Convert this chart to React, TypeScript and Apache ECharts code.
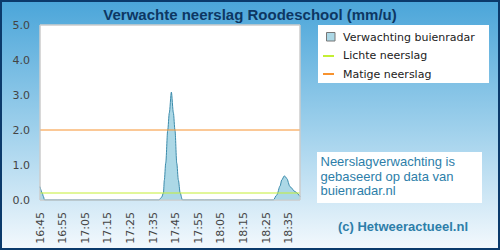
import React, { useEffect, useRef } from "react";
import * as echarts from "echarts";

// Minutes after 16:45 and forecast rain (mm/u)
const rainMinutes = [0, 1, 1.5, 2, 52.6, 53.8, 54.6, 55.0, 55.6, 56.5, 57.2, 58.1, 59.0, 59.7, 60.5, 61.2, 62.0, 63.0, 103.2, 104.7, 106.2, 106.9, 108.1, 109.1, 110.6, 112.8, 115];
const rainValues = [0.38, 0.2, 0.1, 0, 0, 0.08, 0.2, 0.57, 1.05, 2.0, 2.49, 3.08, 2.49, 2.0, 1.05, 0.57, 0.2, 0, 0, 0.14, 0.4, 0.57, 0.69, 0.62, 0.38, 0.24, 0.1];
const timeLabels = ["16:45", "16:55", "17:05", "17:15", "17:25", "17:35", "17:45", "17:55", "18:05", "18:15", "18:25", "18:35"];
const yTicks = [0, 1, 2, 3, 4, 5];
const lightThreshold = 0.2;
const moderateThreshold = 2.0;
const xMax = 115;
const legendNames = ["Verwachting buienradar", "Lichte neerslag", "Matige neerslag"];
const titleText = "Verwachte neerslag Roodeschool (mm/u)";
const infoText = "Neerslagverwachting is\ngebaseerd op data van\nbuienradar.nl";
const creditText = "(c) Hetweeractueel.nl";

export default function App() {
  const ref = useRef<HTMLDivElement>(null);
  useEffect(() => {
    if (!ref.current) return;
    const chart = echarts.init(ref.current, null, { renderer: "svg" });
    const rainData = rainMinutes.map((m, i) => [m, rainValues[i]]);
    const lime = "#c4ef34";
    const orange = "#f7922e";
    chart.setOption({
      animation: false,
      backgroundColor: new echarts.graphic.LinearGradient(0, 0, 0, 1, [
        { offset: 0, color: "#4aa5d9" },
        { offset: 0.5, color: "#9ccfeb" },
        { offset: 1, color: "#f4f9fd" },
      ]),
      title: {
        text: titleText,
        left: "center",
        top: 2,
        textStyle: { fontFamily: "Liberation Sans", fontWeight: "bold", fontSize: 15, color: "#0d3763" },
      },
      grid: {
        left: 40, top: 25, width: 260, height: 175,
        show: true, backgroundColor: "#ffffff", borderColor: "#cccccc", borderWidth: 1,
      },
      xAxis: {
        type: "value", min: 0, max: xMax, interval: 10,
        axisLine: { show: false }, axisTick: { show: false }, splitLine: { show: false },
        axisLabel: {
          rotate: 90, margin: 12, showMaxLabel: false,
          fontFamily: "DejaVu Sans", fontSize: 11, color: "#444444",
          formatter: (v: number) => timeLabels[Math.round(v / 10)] ?? "",
        },
      },
      yAxis: {
        type: "value", min: yTicks[0], max: yTicks[yTicks.length - 1], interval: 1,
        axisLine: { show: false }, axisTick: { show: false }, splitLine: { show: false },
        axisLabel: {
          margin: 10, fontFamily: "DejaVu Sans", fontSize: 11, color: "#444444",
          formatter: (v: number) => v.toFixed(1),
        },
      },
      series: [
        {
          name: legendNames[0], type: "line", data: rainData,
          smooth: 0.3, smoothMonotone: "x", showSymbol: false,
          lineStyle: { color: "#3b8bab", width: 1 },
          areaStyle: { color: "#acd8e6", opacity: 1 },
          z: 2,
        },
        {
          name: legendNames[1], type: "line", showSymbol: false,
          data: [[0, lightThreshold], [xMax, lightThreshold]],
          lineStyle: { color: lime, width: 1 }, z: 3,
        },
        {
          name: legendNames[2], type: "line", showSymbol: false,
          data: [[0, moderateThreshold], [xMax, moderateThreshold]],
          lineStyle: { color: orange, width: 1 }, z: 3,
        },
      ],
      graphic: [
        { type: "rect", z: 100, silent: true, shape: { x: 40, y: 25, width: 260, height: 175 }, style: { fill: "none", stroke: "#cccccc", lineWidth: 1 } },
        { type: "rect", z: 100, silent: true, shape: { x: 1, y: 1, width: 498, height: 248 }, style: { fill: "none", stroke: "#0b3a6b", lineWidth: 2 } },
        { type: "rect", shape: { x: 318, y: 25, width: 171, height: 58 }, style: { fill: "#ffffff" } },
        { type: "rect", shape: { x: 326.5, y: 32.5, width: 8.5, height: 8.5 }, style: { fill: "#acd8e6", stroke: "#777777", lineWidth: 1 } },
        { type: "text", x: 343, y: 37, style: { text: legendNames[0], fontFamily: "DejaVu Sans", fontSize: 11, fill: "#222222", verticalAlign: "middle" } },
        { type: "line", shape: { x1: 323, y1: 56, x2: 334, y2: 56 }, style: { stroke: lime, lineWidth: 2 } },
        { type: "text", x: 343, y: 55.5, style: { text: legendNames[1], fontFamily: "DejaVu Sans", fontSize: 11, fill: "#222222", verticalAlign: "middle" } },
        { type: "line", shape: { x1: 323, y1: 74, x2: 334, y2: 74 }, style: { stroke: orange, lineWidth: 2 } },
        { type: "text", x: 343, y: 74, style: { text: legendNames[2], fontFamily: "DejaVu Sans", fontSize: 11, fill: "#222222", verticalAlign: "middle" } },
        { type: "rect", shape: { x: 317, y: 152, width: 165, height: 51 }, style: { fill: "#ffffff" } },
        { type: "text", x: 320.5, y: 154, style: { text: infoText, fontFamily: "Liberation Sans", fontSize: 13, lineHeight: 14.7, fill: "#2d7ea9", verticalAlign: "top" } },
        { type: "text", x: 403, y: 226, style: { text: creditText, fontFamily: "Liberation Sans", fontWeight: "bold", fontSize: 13, fill: "#2d7ea9", align: "center", verticalAlign: "middle" } },
      ],
    });
    return () => chart.dispose();
  }, []);
  return <div ref={ref} style={{ position: "fixed", left: 0, top: 0, width: 500, height: 250 }} />;
}
